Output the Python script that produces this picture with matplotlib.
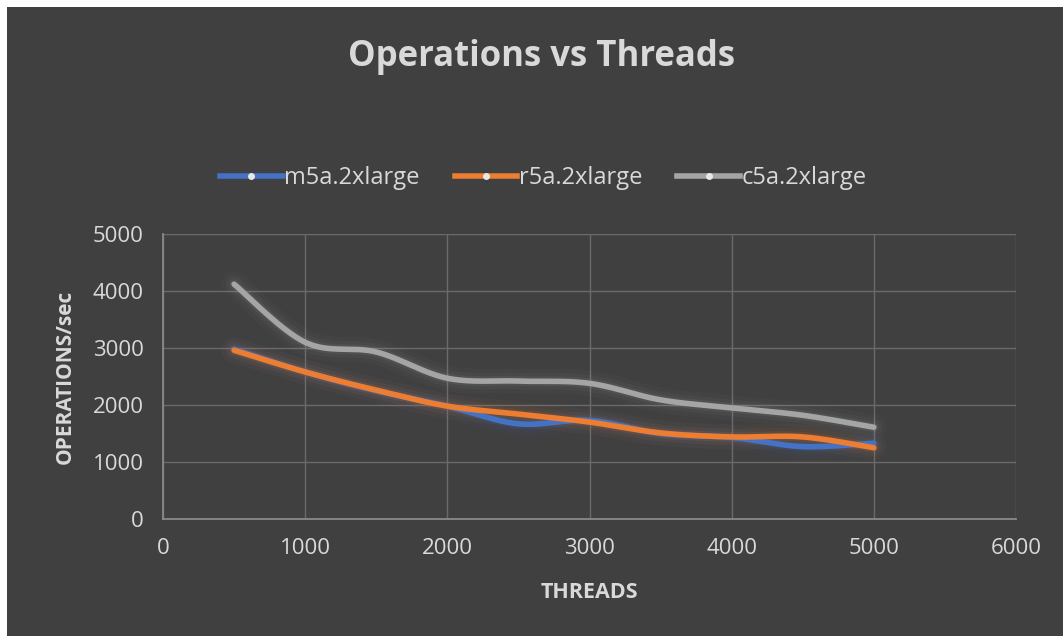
import numpy as np
import matplotlib.pyplot as plt
from matplotlib.patches import Rectangle
from matplotlib.lines import Line2D

threads = [500, 1000, 1500, 2000, 2500, 3000, 3500, 4000, 4500, 5000]
m5a = [2980, 2580, 2250, 1980, 1670, 1730, 1500, 1430, 1270, 1330]
r5a = [2960, 2580, 2260, 1980, 1840, 1700, 1510, 1440, 1440, 1250]
c5a = [4120, 3100, 2930, 2470, 2420, 2380, 2090, 1950, 1820, 1610]

series = [
    ("m5a.2xlarge", m5a, "#4472c4"),
    ("r5a.2xlarge", r5a, "#ed7d31"),
    ("c5a.2xlarge", c5a, "#a5a5a5"),
]

BG = "#404040"
TXT = "#d9d9d9"
FONT = "Open Sans"


def smooth(x, y, n=30):
    # bezier smoothing like a spreadsheet "smoothed line"
    x = np.asarray(x, float)
    y = np.asarray(y, float)
    px = np.concatenate([[x[0]], x, [x[-1]]])
    py = np.concatenate([[y[0]], y, [y[-1]]])
    xs, ys = [], []
    t = np.linspace(0, 1, n)
    for i in range(len(x) - 1):
        p0 = np.array([px[i + 1], py[i + 1]])
        p3 = np.array([px[i + 2], py[i + 2]])
        c1 = p0 + (np.array([px[i + 2], py[i + 2]]) - np.array([px[i], py[i]])) / 6
        c2 = p3 - (np.array([px[i + 3], py[i + 3]]) - np.array([px[i + 1], py[i + 1]])) / 6
        b = ((1 - t) ** 3)[:, None] * p0 + (3 * (1 - t) ** 2 * t)[:, None] * c1 \
            + (3 * (1 - t) * t ** 2)[:, None] * c2 + (t ** 3)[:, None] * p3
        xs.extend(b[:, 0])
        ys.extend(b[:, 1])
    return xs, ys


fig = plt.figure(figsize=(10.63, 6.36), dpi=100, facecolor="white")
fig.patches.append(Rectangle((7 / 1063, 0), 1, 1 - 7 / 636, transform=fig.transFigure,
                             facecolor=BG, edgecolor="none", zorder=-5))

ax = fig.add_axes([163 / 1063, 117 / 636, 853 / 1063, 285 / 636])
ax.set_facecolor(BG)
ax.set_xlim(0, 6000)
ax.set_ylim(0, 5000)
ax.set_xticks(range(0, 6001, 1000))
ax.set_yticks(range(0, 5001, 1000))
ax.grid(True, color="#6a6a6a", linewidth=1)
ax.set_axisbelow(True)
for s in ["top", "right"]:
    ax.spines[s].set_visible(False)
for s in ["left", "bottom"]:
    ax.spines[s].set_color("#8a8a8a")
    ax.spines[s].set_linewidth(1.3)
ax.tick_params(length=0, colors=TXT, labelsize=16, pad=14)
for lab in ax.get_xticklabels() + ax.get_yticklabels():
    lab.set_fontfamily(FONT)

handles = []
for name, vals, col in series:
    sx, sy = smooth(threads, vals)
    for w, a in [(18, 0.04), (12, 0.06), (7, 0.1)]:
        ax.plot(sx, sy, color=col, linewidth=w, alpha=a, solid_capstyle="round")
    ax.plot(sx, sy, color=col, linewidth=4, solid_capstyle="round", zorder=3)
    handles.append(Line2D([], [], color=col, linewidth=4, marker="o", markersize=5,
                          markerfacecolor="#e8e8e8", markeredgecolor="none", label=name))

ax.set_xlabel("THREADS", fontfamily=FONT, fontweight="bold", fontsize=15.5, color=TXT, labelpad=16)
ax.set_ylabel("OPERATIONS/sec", fontfamily=FONT, fontweight="bold", fontsize=15, color=TXT, labelpad=12)

fig.text(0.509, 1 - 57 / 636, "Operations vs Threads", ha="center", va="center",
         fontfamily=FONT, fontweight="bold", fontsize=25, color=TXT)

leg = fig.legend(handles=handles, loc="center", bbox_to_anchor=(0.511, 1 - 178 / 636), ncol=3,
                 frameon=False, handlelength=2.65, handletextpad=0.05, columnspacing=1.5,
                 prop={"family": FONT, "size": 17})
for t in leg.get_texts():
    t.set_color(TXT)

fig.savefig("out.png", dpi=100, facecolor=fig.get_facecolor())
